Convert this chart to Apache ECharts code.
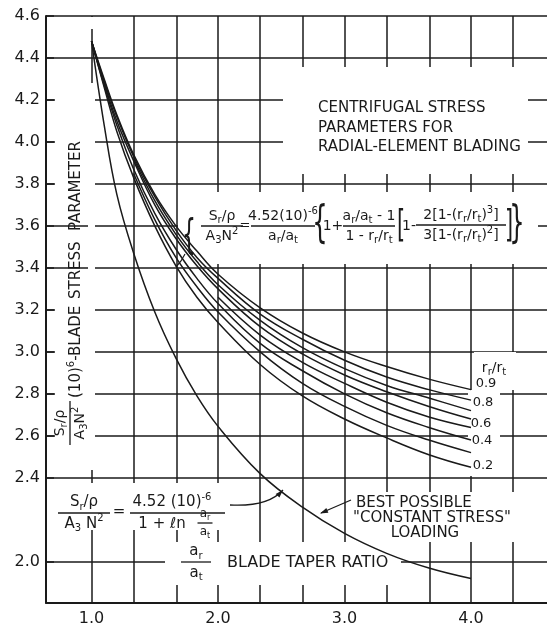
<!DOCTYPE html>
<html>
<head>
<meta charset="utf-8">
<title>Centrifugal stress parameters for radial-element blading</title>
<script src="https://cdn.jsdelivr.net/npm/echarts@6/dist/echarts.min.js"></script>
<style>
  html, body { margin: 0; padding: 0; background: #fff; }
  #chart { width: 547px; height: 626px; }
</style>
</head>
<body>
<div id="chart"></div>
<script>
// blade taper ratio a_r/a_t at which the curves were read
const taperRatio = [1.0, 1.1, 1.2, 1.333, 1.5, 1.667, 1.833, 2.0, 2.333, 2.667, 3.0, 3.333, 3.667, 4.0]

// blade stress parameter, one list per hub/tip radius ratio r_r/r_t
const stress09 = [4.48, 4.30, 4.13, 3.94, 3.75, 3.60, 3.48, 3.37, 3.21, 3.09, 3.00, 2.93, 2.87, 2.82]
const stress08 = [4.48, 4.29, 4.12, 3.93, 3.74, 3.58, 3.45, 3.35, 3.18, 3.06, 2.96, 2.88, 2.82, 2.77]
const stress07 = [null, null, null, 3.92, 3.72, 3.56, 3.43, 3.32, 3.15, 3.02, 2.92, 2.84, 2.78, 2.72]
const stress06 = [4.48, 4.28, 4.10, 3.91, 3.70, 3.54, 3.41, 3.30, 3.12, 2.99, 2.89, 2.81, 2.74, 2.68]
const stress05 = [null, null, null, null, null, null, null, 3.26, 3.08, 2.95, 2.85, 2.76, 2.69, 2.64]
const stress04 = [4.48, 4.27, 4.08, 3.87, 3.66, 3.49, 3.35, 3.23, 3.04, 2.91, 2.80, 2.71, 2.64, 2.58]
const stress03 = [null, null, null, 3.85, 3.63, 3.45, 3.31, 3.19, 3.00, 2.85, 2.74, 2.65, 2.58, 2.52]
const stress02 = [4.48, 4.26, 4.05, 3.83, 3.60, 3.41, 3.26, 3.14, 2.94, 2.79, 2.68, 2.59, 2.51, 2.45]

// best possible "constant stress" loading
const constantStress = [4.48, 4.08, 3.75, 3.47, 3.19, 2.97, 2.79, 2.645, 2.42, 2.26, 2.135, 2.04, 1.97, 1.92]

// axes
const xTickLabels = [1.0, 2.0, 3.0, 4.0]
const yTickLabels = [2.0, 2.4, 2.6, 2.8, 3.0, 3.2, 3.4, 3.6, 3.8, 4.0, 4.2, 4.4, 4.6]
const xGridValues = [1.0, 1.333, 1.667, 2.0, 2.333, 2.667, 3.0, 3.333, 3.667, 4.0, 4.333, 4.667]
const yGridValues = [2.0, 2.4, 2.6, 2.8, 3.0, 3.2, 3.4, 3.6, 3.8, 4.0, 4.2, 4.4, 4.6]

const INK = '#1a1a1a'
const FONT = 'DejaVu Sans'

function curve(name, values) {
  return {
    name: name,
    type: 'line',
    z: 2,
    smooth: 0.4,
    symbol: 'none',
    silent: true,
    lineStyle: { color: INK, width: 1.5 },
    data: taperRatio.map((x, i) => [x, values[i]])
  }
}

function richFor(size) {
  const s = Math.round(size * 0.68)
  return {
    b: { fontSize: s, fontFamily: FONT, fill: INK, lineHeight: s + 1, verticalAlign: 'bottom' },
    t: { fontSize: s, fontFamily: FONT, fill: INK, lineHeight: s + 1, verticalAlign: 'top' }
  }
}

function word(x, y, text, size, align, extra) {
  return Object.assign({
    type: 'text',
    x: x,
    y: y,
    z: 3,
    silent: true,
    style: {
      text: text,
      fontSize: size,
      fontFamily: FONT,
      fill: INK,
      lineHeight: Math.round(size * 1.35),
      align: align || 'center',
      verticalAlign: 'middle',
      rich: richFor(size)
    }
  }, extra || {})
}

// a tall bracket, squeezed sideways so it stays thin
function bracket(x, y, ch, size) {
  return word(x, y, ch, size, 'center', { scaleX: 0.55, originX: 0, originY: 0 })
}

function bar(x1, y1, x2, y2) {
  return {
    type: 'line', z: 3, silent: true,
    shape: { x1: x1, y1: y1, x2: x2, y2: y2 },
    style: { stroke: INK, lineWidth: 1.3 }
  }
}

// numerator over denominator, centred on (cx, cy)
function frac(cx, cy, num, den, size, width) {
  const gap = size * 0.72
  return [
    word(cx, cy - gap, num, size),
    bar(cx - width / 2, cy, cx + width / 2, cy),
    word(cx, cy + gap, den, size)
  ]
}

function mask(x, y, w, h) {
  return {
    type: 'rect', z: 1, silent: true,
    shape: { x: x, y: y, width: w, height: h },
    style: { fill: '#fff' }
  }
}

function arrowHead(x, y, angle) {
  const len = 8
  const half = 2.6
  const bx = x - len * Math.cos(angle)
  const by = y - len * Math.sin(angle)
  const nx = -Math.sin(angle) * half
  const ny = Math.cos(angle) * half
  return {
    type: 'polygon', z: 3, silent: true,
    shape: { points: [[x, y], [bx + nx, by + ny], [bx - nx, by - ny]] },
    style: { fill: INK }
  }
}

// white patches where the drawing leaves the grid blank around its lettering
const masks = [
  mask(88, 17, 7, 12),
  mask(55, 83, 40, 135),
  mask(88, 218, 7, 54),
  mask(55, 272, 40, 198),
  mask(283, 67, 245, 107),
  mask(178, 192, 360, 72),
  mask(55, 483, 175, 47),
  mask(165, 542, 236, 43),
  mask(346, 492, 174, 50),
  mask(474, 352, 42, 38),
  mask(468, 390, 32, 86)
]

const title = [
  word(318, 108, 'CENTRIFUGAL STRESS', 15, 'left'),
  word(318, 128, 'PARAMETERS FOR', 15, 'left'),
  word(318, 147, 'RADIAL-ELEMENT BLADING', 15, 'left')
]

const bigFormula = [].concat(
  [bracket(189, 238, '{', 40)],
  [{ type: 'polyline', z: 3, silent: true, shape: { points: [[185, 254], [181, 261], [176, 267]] }, style: { stroke: INK, lineWidth: 1.2, fill: null } }],
  frac(222, 226, 'S{b|r}/ρ', 'A{b|3}N{t|2}', 14, 42),
  [word(245, 226, '=', 13)],
  frac(283, 226, '4.52(10){t|-6}', 'a{b|r}/a{b|t}', 14, 64),
  [bracket(320, 226, '{', 44)],
  [word(333, 226, '1+', 14)],
  frac(369, 226, 'a{b|r}/a{b|t} - 1', '1 - r{b|r}/r{b|t}', 14, 52),
  [bracket(401, 226, '[', 38)],
  [word(409, 226, '1-', 14)],
  frac(461, 225, '2[1-(r{b|r}/r{b|t}){t|3}]', '3[1-(r{b|r}/r{b|t}){t|2}]', 14, 90),
  [bracket(509, 226, ']', 38)],
  [bracket(517, 226, '}', 44)]
)

const lowFormula = [].concat(
  frac(84, 513, 'S{b|r}/ρ', 'A{b|3} N{t|2}', 15, 52),
  [word(119, 512, '=', 15)],
  [word(172, 502, '4.52 (10){t|-6}', 15)],
  [bar(130, 513, 225, 513)],
  [word(162, 524, '1 + ℓn', 15)],
  frac(205, 523, 'a{b|r}', 'a{b|t}', 12, 15),
  [{
    type: 'bezierCurve', z: 3, silent: true,
    shape: { x1: 230, y1: 505, x2: 283, y2: 490, cpx1: 268, cpy1: 507 },
    style: { stroke: INK, lineWidth: 1.3, fill: null }
  }],
  [arrowHead(283, 490, -0.82)]
)

const loadingNote = [
  bar(351, 500, 321, 513),
  arrowHead(320, 513.5, 2.74),
  word(356, 503, 'BEST POSSIBLE', 15, 'left'),
  word(432, 518, '"CONSTANT STRESS"', 15),
  word(425, 533, 'LOADING', 15)
]

const taperLabel = [].concat(
  frac(196, 562, 'a{b|r}', 'a{b|t}', 15, 30),
  [word(227, 563, 'BLADE TAPER RATIO', 16, 'left')]
)

const ratioLabels = [
  word(494, 368, 'r{b|r}/r{b|t}', 14),
  word(486, 384, '0.9', 13),
  word(483, 403, '0.8', 13),
  word(481, 424, '0.6', 13),
  word(482, 441, '0.4', 13),
  word(483, 466, '0.2', 13)
]

// rotated axis title, reading bottom to top
const axisTitle = {
  type: 'group',
  x: 70,
  y: 445,
  rotation: Math.PI / 2,
  silent: true,
  children: [].concat(
    frac(22, 0, 'S{b|r}/ρ', 'A{b|3}N{t|2}', 14, 44),
    [word(47, 6, '(10){t|6}-BLADE', 15, 'left')],
    [word(146, 6, 'STRESS', 15, 'left')],
    [word(214, 6, 'PARAMETER', 15, 'left')]
  )
}

const options = {
  animation: false,
  backgroundColor: '#fff',
  textStyle: { fontFamily: FONT },
  grid: {
    left: 46,
    top: 16,
    width: 540,
    height: 586.7,
    containLabel: false,
    outerBoundsMode: 'none'
  },
  xAxis: {
    type: 'value',
    min: 0.64,
    max: 4.909,
    axisLine: { show: true, onZero: false, lineStyle: { color: INK, width: 2 } },
    axisTick: { show: false },
    splitLine: { show: false },
    axisLabel: {
      customValues: xTickLabels,
      formatter: v => v.toFixed(1),
      color: INK,
      fontSize: 16,
      fontFamily: FONT,
      margin: 8
    }
  },
  yAxis: {
    type: 'value',
    min: 1.805,
    max: 4.6,
    axisLine: { show: true, onZero: false, lineStyle: { color: INK, width: 2 } },
    axisTick: {
      show: true,
      inside: true,
      length: 8,
      customValues: yTickLabels,
      lineStyle: { color: INK, width: 1.5 }
    },
    splitLine: { show: false },
    axisLabel: {
      customValues: yTickLabels,
      formatter: v => v.toFixed(1),
      color: INK,
      fontSize: 16,
      fontFamily: FONT,
      margin: 6
    }
  },
  series: [
    {
      name: 'grid',
      type: 'line',
      z: 0,
      silent: true,
      symbol: 'none',
      data: [[1.0, 4.48]],
      lineStyle: { opacity: 0 },
      markLine: {
        z: 0,
        silent: true,
        animation: false,
        symbol: 'none',
        label: { show: false },
        emphasis: { disabled: true },
        lineStyle: { color: INK, width: 1.5, type: 'solid' },
        data: xGridValues.map(v => ({ xAxis: v })).concat(yGridValues.map(v => ({ yAxis: v })))
      }
    },
    curve('0.9', stress09),
    curve('0.8', stress08),
    curve('0.7', stress07),
    curve('0.6', stress06),
    curve('0.5', stress05),
    curve('0.4', stress04),
    curve('0.3', stress03),
    curve('0.2', stress02),
    curve('constant stress', constantStress)
  ],
  graphic: {
    elements: [].concat(masks, title, bigFormula, lowFormula, loadingNote, taperLabel, ratioLabels, [axisTitle])
  }
}

const chart = echarts.init(document.getElementById('chart'), null, { renderer: 'canvas' })
chart.setOption(options)
</script>
</body>
</html>
